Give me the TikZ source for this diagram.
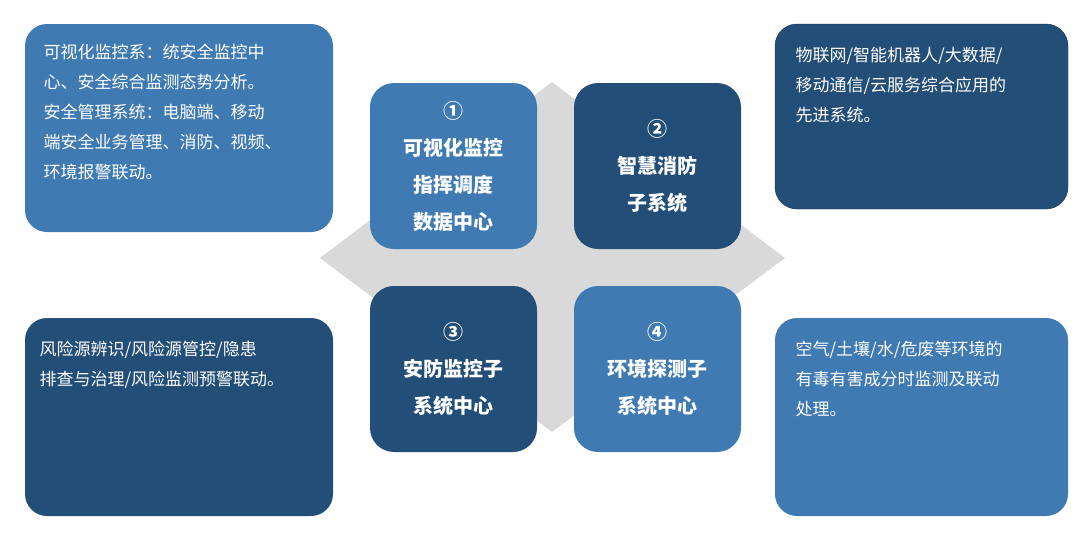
\documentclass[tikz,border=0pt]{standalone}
\usepackage{fontspec}
\newfontfamily\cjk{Noto Sans CJK SC}
\usetikzlibrary{positioning}
\definecolor{lightblue}{HTML}{3F7AB2}
\definecolor{darkblue}{HTML}{234E78}
\definecolor{diamondgrey}{HTML}{D9D9D9}
\begin{document}
\begin{tikzpicture}[x=1pt, y=-1pt,
    infobox/.style={rounded corners=22pt, inner sep=0pt},
    infotext/.style={text=white, font=\cjk\fontsize{17}{30}\selectfont, align=left, anchor=north west},
    core/.style={rounded corners=24pt, minimum width=167pt, minimum height=166pt, inner sep=0pt,
                 text=white, font=\cjk\bfseries\fontsize{20}{37}\selectfont, align=center}]
    \useasboundingbox (0,0) rectangle (1087,541);
    % grey diamond
    \fill [diamondgrey] (320,258) -- (552,82) -- (785,258) -- (552,432) -- cycle;

    % side boxes
    \fill [lightblue, infobox] (25,24) rectangle (333,232);
    \draw [darkblue!60!black, fill=darkblue, infobox] (775,24) rectangle (1068,209);
    \fill [darkblue, infobox] (25,318) rectangle (333,516);
    \fill [lightblue, infobox] (775,318) rectangle (1068,516);

    % texts
    \node [infotext] (tl) at (40,40) {可视化监控系：统安全监控中\\心、安全综合监测态势分析。\\安全管理系统：电脑端、移动\\端安全业务管理、消防、视频、\\环境报警联动。};
    \node [infotext] (tr) at (792,44) {物联网/智能机器人/大数据/\\移动通信/云服务综合应用的\\先进系统。};
    \node [infotext] (bl) at (36,338) {风险源辨识/风险源管控/隐患\\排查与治理/风险监测预警联动。};
    \node [infotext] (br) at (792,338) {空气/土壤/水/危废等环境的\\有毒有害成分时监测及联动\\处理。};

    % core squares
    \node [core, fill=lightblue] (c1) at (453.5,166) {①\\可视化监控\\指挥调度\\数据中心};
    \node [core, fill=darkblue]  (c2) at (657.5,166) {②\\智慧消防\\子系统};
    \node [core, fill=darkblue]  (c3) at (453.5,369) {③\\安防监控子\\系统中心};
    \node [core, fill=lightblue] (c4) at (657.5,369) {④\\环境探测子\\系统中心};
\end{tikzpicture}
\end{document}
